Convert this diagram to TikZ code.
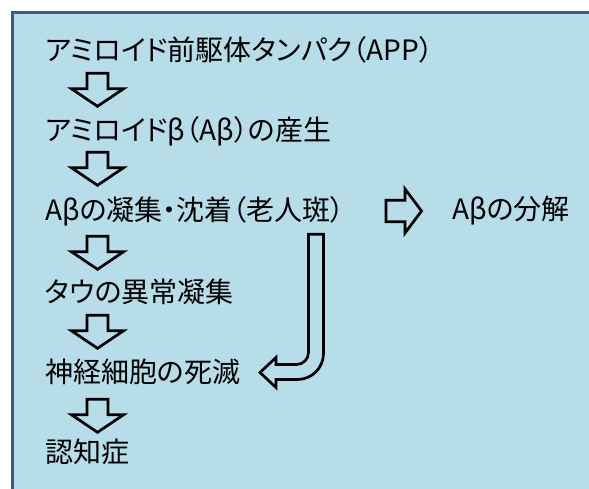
\documentclass[tikz,border=0pt]{standalone}
\usepackage{fontspec}
\newfontfamily\jp[RawFeature=+palt]{Noto Sans CJK JP}
\definecolor{boxfill}{HTML}{B7DDE8}
\definecolor{boxline}{HTML}{385D8A}
\tikzset{
  txt/.style={anchor=west, inner sep=0pt, font=\jp\fontsize{28}{31}\selectfont, text=black},
  blk/.style={draw=black, line width=2.7pt, line join=miter, fill=none},
  darrow/.pic={\draw[blk] (-10.5,0) -- (10.5,0) -- (10.5,15.5) -- (26,15.5) -- (0,33) -- (-26,15.5) -- (-10.5,15.5) -- cycle;},
  rarrow/.pic={\draw[blk] (0,-10.7) -- (19,-10.7) -- (19,-22) -- (35.5,0) -- (19,22) -- (19,10.7) -- (0,10.7) -- cycle;}
}
\begin{document}
\begin{tikzpicture}[x=1pt,y=-1pt]
\useasboundingbox (0,0) rectangle (589,489);
\clip (0,0) rectangle (589,489);
\fill[white] (0,0) rectangle (589,489);
\draw[line width=3pt, draw=boxline, fill=boxfill] (12.5,12.5) rectangle (620,520);

\node[txt] (t1) at (45,50) {アミロイド前駆体タンパク（APP）};
\node[txt] (t2) at (45,131) {アミロイドβ（Aβ）の産生};
\node[txt] (t3) at (45,211) {Aβの凝集・沈着（老人斑）};
\node[txt] (t4) at (45,291.5) {タウの異常凝集};
\node[txt] (t5) at (45,372) {神経細胞の死滅};
\node[txt] (t6) at (45,452) {認知症};
\node[txt] (t7) at (452,211) {Aβの分解};

\pic at (97.5,73.3) {darrow};
\pic at (97.5,152.3) {darrow};
\pic at (97.5,236.3) {darrow};
\pic at (97.5,315.3) {darrow};
\pic at (97.5,399.3) {darrow};
\pic at (386,211) {rarrow};

\draw[blk] (308.5,234.2) -- (323.5,234.2) [rounded corners=26pt] -- (323.5,379.5) [sharp corners] -- (276,379.5) -- (276,387.5) -- (260,372.5) -- (276,357.5) -- (276,364.5) [rounded corners=12pt] -- (308.5,364.5) [sharp corners] -- cycle;
\end{tikzpicture}
\end{document}
